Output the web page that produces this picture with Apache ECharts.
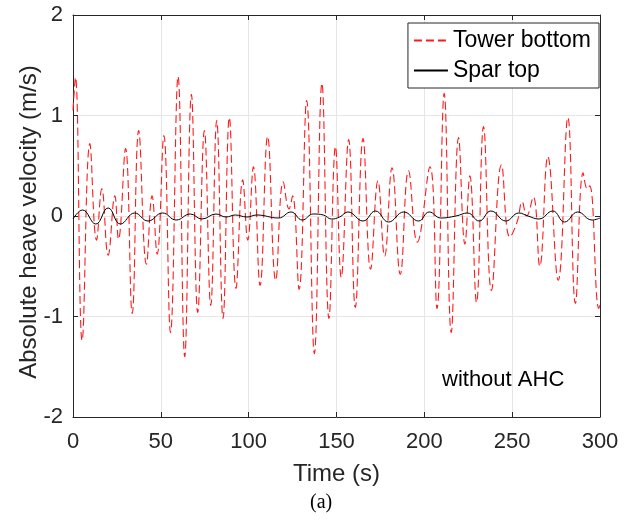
<!DOCTYPE html>
<html>
<head>
<meta charset="utf-8">
<script src="https://cdn.jsdelivr.net/npm/echarts@6/dist/echarts.min.js"></script>
<style>html,body{margin:0;padding:0;background:#fff;}#c{width:634px;height:523px;}</style>
</head>
<body>
<div id="c"></div>
<script>
// Tower bottom (red dashed) — extrema
const towerT = [0, 1.4, 5.2, 9.6, 13.4, 16.4, 20.0, 23.8, 25.9, 29.9, 33.7, 37.4, 41.8, 45.0, 47.9, 51.7, 55.5, 59.8, 63.6, 67.4, 71.0, 74.8, 78.4, 81.8, 85.4, 89.0, 92.8, 96.6, 99.5, 102.7, 106.5, 110.8, 115.4, 119.7, 123.0, 125.0, 128.7, 133.0, 137.4, 141.7, 145.7, 149.4, 152.7, 156.9, 160.7, 165.1, 169.4, 173.6, 177.4, 181.6, 186.3, 191.0, 196.0, 203.2, 207.2, 211.3, 215.3, 219.5, 223.1, 225.9, 229.7, 233.7, 238.2, 243.9, 248.7, 252.8, 255.7, 258.2, 262.0, 265.7, 270.3, 276.2, 281.7, 286.0, 290.4, 292.8, 294.2, 299.3, 300];
const towerV = [1.05, 1.38, -1.24, 0.72, -0.24, 0.27, -0.39, 0.20, -0.23, 0.67, -0.97, 0.85, -0.48, 0.20, -0.38, 0.80, -1.16, 1.39, -1.40, 1.21, -0.96, 0.85, -0.89, 0.95, -1.02, 0.98, -0.72, 0.36, -0.24, 0.49, -0.69, 0.79, -0.64, 0.34, 0.07, 0.20, -0.73, 1.15, -1.37, 1.32, -1.02, 0.69, -0.61, 0.76, -0.91, 0.77, -0.53, 0.35, -0.40, 0.48, -0.58, 0.45, -0.26, 0.49, -0.92, 1.22, -1.16, 0.78, -0.28, 0.40, -0.86, 0.89, -0.74, 0.51, -0.21, -0.06, 0.14, 0.00, 0.19, -0.50, 0.59, -0.64, 0.98, -0.87, 0.43, 0.27, 0.30, -0.92, -0.88];

// Spar top (black solid)
const sparT = [0, 5.4, 13.0, 20.0, 27.0, 35.1, 42.7, 51.0, 58.7, 66.8, 73.4, 81.4, 87.1, 92.4, 99.0, 104.6, 117.0, 124.1, 130.5, 136.8, 142.5, 147.2, 151.8, 156.5, 165.1, 172.2, 179.6, 188.3, 196.7, 202.8, 209.4, 218.0, 224.6, 231.2, 237.9, 246.4, 253.8, 259.0, 265.2, 273.1, 279.8, 287.3, 295.5, 300];
const sparV = [-0.03, 0.06, -0.08, 0.08, -0.08, 0.03, -0.05, 0.03, -0.04, 0.02, -0.03, 0.02, -0.01, 0.01, -0.01, 0.01, -0.02, 0.04, -0.04, 0.02, 0.01, -0.03, -0.01, 0.04, -0.05, 0.05, -0.06, 0.04, -0.05, 0.04, -0.02, 0.0, 0.03, -0.05, 0.05, -0.05, 0.03, 0.0, -0.03, 0.05, -0.06, 0.04, -0.04, -0.02];

const xTicks = [0, 50, 100, 150, 200, 250, 300];
const yTicks = [-2, -1, 0, 1, 2];

const seriesNames = ['Tower bottom', 'Spar top'];
const annotation = 'without AHC';
const caption = '(a)';
const xName = 'Time (s)';
const yName = 'Absolute heave velocity (m/s)';

const FONT = 'Liberation Sans, Arial, Helvetica, sans-serif';
const AX = '#262626';

const chart = echarts.init(document.getElementById('c'), null, {renderer: 'canvas'});
const zip = (a, b) => a.map((t, i) => [t, b[i]]);

chart.setOption({
  animation: false,
  backgroundColor: '#fff',
  grid: {left: 73, right: 34, top: 15, bottom: 106},
  legend: {
    orient: 'vertical',
    right: 35,
    top: 23,
    backgroundColor: '#fff',
    borderColor: AX,
    borderWidth: 1,
    padding: [6, 8, 6, 5],
    itemGap: 7,
    itemWidth: 34,
    itemHeight: 14,
    itemStyle: {opacity: 0},
    textStyle: {fontFamily: FONT, fontSize: 23, color: '#000'},
    data: seriesNames,
  },
  xAxis: [{
    type: 'value', min: xTicks[0], max: xTicks[xTicks.length - 1], interval: 50,
    name: xName, nameLocation: 'middle', nameGap: 45, nameMoveOverlap: false,
    nameTextStyle: {fontFamily: FONT, fontSize: 24, color: '#262626'},
    axisLine: {show: true, onZero: false, lineStyle: {color: AX, width: 1}},
    axisTick: {show: true, inside: true, length: 5, lineStyle: {color: AX}},
    axisLabel: {fontFamily: FONT, fontSize: 22, color: '#262626', margin: 14},
    splitLine: {show: true, lineStyle: {color: '#e6e6e6', width: 1}},
  }, {
    type: 'value', position: 'top', min: 0, max: 300, interval: 50,
    axisLine: {show: true, onZero: false, lineStyle: {color: AX, width: 1}},
    axisTick: {show: true, inside: true, length: 5, lineStyle: {color: AX}},
    axisLabel: {show: false}, splitLine: {show: false},
  }],
  yAxis: [{
    type: 'value', min: yTicks[0], max: yTicks[yTicks.length - 1], interval: 1,
    name: yName, nameLocation: 'middle', nameGap: 32, nameRotate: 90, nameMoveOverlap: false,
    nameTextStyle: {fontFamily: FONT, fontSize: 24, color: '#262626', padding: [0, 12, 0, 0]},
    axisLine: {show: true, onZero: false, lineStyle: {color: AX, width: 1}},
    axisTick: {show: true, inside: true, length: 5, lineStyle: {color: AX}},
    axisLabel: {fontFamily: FONT, fontSize: 22, color: '#262626', margin: 10},
    splitLine: {show: true, lineStyle: {color: '#e6e6e6', width: 1}},
  }, {
    type: 'value', position: 'right', min: -2, max: 2, interval: 1,
    axisLine: {show: true, onZero: false, lineStyle: {color: AX, width: 1}},
    axisTick: {show: true, inside: true, length: 5, lineStyle: {color: AX}},
    axisLabel: {show: false}, splitLine: {show: false},
  }],
  series: [{
    name: seriesNames[0], type: 'line', data: zip(towerT, towerV),
    showSymbol: false, symbol: 'none', smooth: 0.45,
    lineStyle: {color: '#ff1a1a', width: 1.1, type: [8, 4]},
    itemStyle: {color: '#ff1a1a'}, z: 3,
  }, {
    name: seriesNames[1], type: 'line', data: zip(sparT, sparV),
    showSymbol: false, symbol: 'none', smooth: 0.45,
    lineStyle: {color: '#000', width: 1},
    itemStyle: {color: '#000'}, z: 4,
  }],
  graphic: [{
    type: 'text', left: 442, top: 369,
    style: {text: annotation, font: '22px ' + FONT, fill: '#000'}
  }, {
    type: 'text', left: 310, top: 493,
    style: {text: caption, font: '20px "Liberation Serif", "Times New Roman", serif', fill: '#000'}
  }]
});
</script>
</body>
</html>
